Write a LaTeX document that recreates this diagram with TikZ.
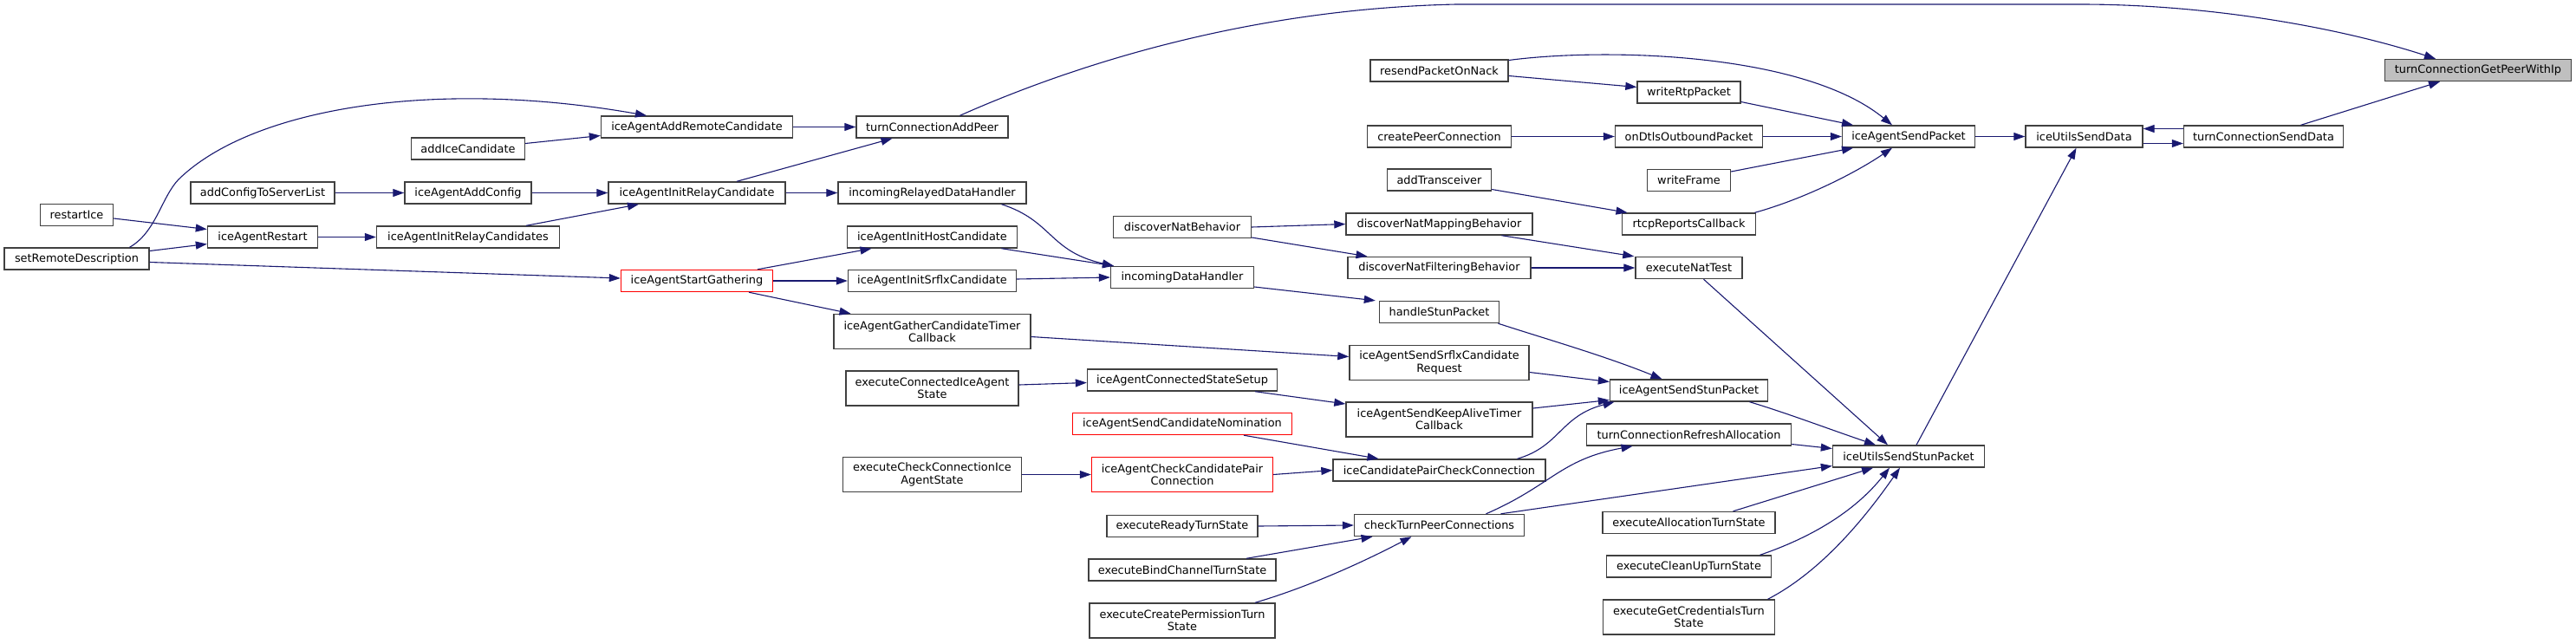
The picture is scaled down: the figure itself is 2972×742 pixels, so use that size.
\documentclass[tikz,border=0pt]{standalone}
\usepackage{fontspec}
\usepackage{xcolor}
\usepackage{tikz}
\usetikzlibrary{arrows.meta}
\newfontfamily\dox{DejaVu Sans}
\newcommand\fnfont{\dox\fontsize{12.9pt}{14.3pt}\selectfont}
\definecolor{callBlue}{HTML}{191970}
\definecolor{boxEdge}{HTML}{404040}
\definecolor{targetFill}{HTML}{BFBFBF}
\definecolor{truncRed}{HTML}{FF0000}

\begin{document}
\begin{tikzpicture}[x=1pt, y=-1pt,
    fn/.style={draw=boxEdge, line width=1.4pt, fill=white, minimum height=25pt, inner sep=2pt, font=\fnfont},
    fnred/.style={fn, draw=truncRed},
    fntarget/.style={fn, fill=targetFill},
    two/.style={align=center, minimum height=40pt},
    call/.style={draw=callBlue, line width=1.1pt, -{Triangle[length=13pt, width=9pt]}}]
    \useasboundingbox[fill=white] (0,0) rectangle (2972,742);

    \node[fn, minimum width=84pt] (restartIce) at (88.5,248) {restartIce};
    \node[fn, minimum width=167pt] (setRemote) at (88.5,298.5) {setRemoteDescription};
    \node[fn, minimum width=166pt] (addCfgList) at (303,222.5) {addConfigToServerList};
    \node[fn, minimum width=127pt] (restart) at (303,273.5) {iceAgentRestart};
    \node[fn, minimum width=131pt] (addIce) at (540,171.5) {addIceCandidate};
    \node[fn, minimum width=146pt] (addCfg) at (540,222.5) {iceAgentAddConfig};
    \node[fn, minimum width=211pt] (initRelays) at (540,273.5) {iceAgentInitRelayCandidates};
    \node[fn, minimum width=221pt] (addRemote) at (804,146.5) {iceAgentAddRemoteCandidate};
    \node[fn, minimum width=204pt] (initRelay) at (804,222.5) {iceAgentInitRelayCandidate};
    \node[fnred, minimum width=175pt] (startGather) at (804,324) {iceAgentStartGathering};

    \node[fn, minimum width=175pt] (addPeer) at (1075.5,146.5) {turnConnectionAddPeer};
    \node[fn, minimum width=217pt] (relayedHandler) at (1075.5,222.5) {incomingRelayedDataHandler};
    \node[fn, minimum width=196pt] (initHost) at (1075.5,273.5) {iceAgentInitHostCandidate};
    \node[fn, minimum width=194pt] (initSrflx) at (1075.5,324) {iceAgentInitSrflxCandidate};
    \node[fn, two, minimum width=227pt] (gatherTimer) at (1075.5,382.5) {iceAgentGatherCandidateTimer\\Callback};
    \node[fn, two, minimum width=199pt] (connIce) at (1075.5,448) {executeConnectedIceAgent\\State};
    \node[fn, two, minimum width=206pt] (checkConnIce) at (1075.5,547.5) {executeCheckConnectionIce\\AgentState};

    \node[fn, minimum width=159pt] (natBehavior) at (1364,262) {discoverNatBehavior};
    \node[fn, minimum width=165pt] (dataHandler) at (1364,320) {incomingDataHandler};
    \node[fn, minimum width=219pt] (connSetup) at (1364,438.5) {iceAgentConnectedStateSetup};
    \node[fnred, minimum width=253pt] (nominate) at (1364,489) {iceAgentSendCandidateNomination};
    \node[fnred, two, minimum width=209pt] (checkPair) at (1364,547.5) {iceAgentCheckCandidatePair\\Connection};
    \node[fn, minimum width=174pt] (readyTurn) at (1364,607) {executeReadyTurnState};
    \node[fn, minimum width=216pt] (bindChannel) at (1364,657.5) {executeBindChannelTurnState};
    \node[fn, two, minimum width=214pt] (createPerm) at (1364,716) {executeCreatePermissionTurn\\State};

    \node[fn, minimum width=159pt] (resendNack) at (1660.5,81.5) {resendPacketOnNack};
    \node[fn, minimum width=166pt] (createPC) at (1660.5,157.5) {createPeerConnection};
    \node[fn, minimum width=120pt] (addTrans) at (1660.5,207.5) {addTransceiver};
    \node[fn, minimum width=215pt] (natMapping) at (1660.5,258.5) {discoverNatMappingBehavior};
    \node[fn, minimum width=211pt] (natFiltering) at (1660.5,309) {discoverNatFilteringBehavior};
    \node[fn, minimum width=138pt] (handleStun) at (1660.5,360) {handleStunPacket};
    \node[fn, two, minimum width=207pt] (srflxReq) at (1660.5,418.5) {iceAgentSendSrflxCandidate\\Request};
    \node[fn, two, minimum width=215pt] (keepAlive) at (1660.5,484) {iceAgentSendKeepAliveTimer\\Callback};
    \node[fn, minimum width=245pt] (pairCheck) at (1660.5,542.5) {iceCandidatePairCheckConnection};
    \node[fn, minimum width=196pt] (checkTurn) at (1660.5,606) {checkTurnPeerConnections};

    \node[fn, minimum width=119pt] (writeRtp) at (1948.5,106.5) {writeRtpPacket};
    \node[fn, minimum width=170pt] (onDtls) at (1948.5,157.5) {onDtlsOutboundPacket};
    \node[fn, minimum width=96pt] (writeFrame) at (1948.5,208) {writeFrame};
    \node[fn, minimum width=154pt] (rtcp) at (1948.5,258.5) {rtcpReportsCallback};
    \node[fn, minimum width=123pt] (natTest) at (1948.5,309) {executeNatTest};
    \node[fn, minimum width=182pt] (agentStun) at (1948.5,450.5) {iceAgentSendStunPacket};
    \node[fn, minimum width=236pt] (refreshAlloc) at (1948.5,501.5) {turnConnectionRefreshAllocation};
    \node[fn, minimum width=199pt] (allocTurn) at (1948.5,603) {executeAllocationTurnState};
    \node[fn, minimum width=190pt] (cleanUp) at (1948.5,653.5) {executeCleanUpTurnState};
    \node[fn, two, minimum width=198pt] (getCred) at (1948.5,712) {executeGetCredentialsTurn\\State};

    \node[fn, minimum width=153pt] (sendPacket) at (2202,157.5) {iceAgentSendPacket};
    \node[fn, minimum width=175pt] (utilsStun) at (2202,526.5) {iceUtilsSendStunPacket};
    \node[fn, minimum width=135pt] (utilsData) at (2404.5,157.5) {iceUtilsSendData};
    \node[fn, minimum width=184pt] (sendData) at (2611.5,157.5) {turnConnectionSendData};
    \node[fntarget, minimum width=215pt] (getPeer) at (2859,81) {turnConnectionGetPeerWithIp};

    \draw[call] ([xshift=61pt]setRemote.north) .. controls (180,268) and (186,228) .. (206,207)
        .. controls (290,125) and (500,90) .. ([xshift=-58pt]addRemote.north);
    \draw[call] ([yshift=6pt]addIce.east) -- ([yshift=-10pt]addRemote.west);
    \draw[call] (addRemote.east) -- (addPeer.west);
    \draw[call] (addCfgList.east) -- (addCfg.west);
    \draw[call] (addCfg.east) -- (initRelay.west);
    \draw[call] ([xshift=67pt]initRelays.north) -- ([xshift=-67pt]initRelay.south);
    \draw[call] ([yshift=-4pt]restartIce.east) -- ([yshift=9pt]restart.west);
    \draw[call] ([yshift=9pt]setRemote.east) -- ([yshift=-8pt]restart.west);
    \draw[call] (restart.east) -- (initRelays.west);
    \draw[call] ([yshift=-4pt]setRemote.east) -- ([yshift=3pt]startGather.west);
    \draw[call] ([xshift=46pt]initRelay.north) -- ([xshift=-46pt]addPeer.south);
    \draw[call] (initRelay.east) -- (relayedHandler.west);
    \draw[call] ([xshift=32pt]addPeer.north) .. controls (1250,70) and (1450,10) .. (1680,5)
        -- (2400,5) .. controls (2550,5) and (2700,32) .. ([xshift=-49pt]getPeer.north);
    \draw[call] ([xshift=70pt]startGather.north) -- ([xshift=-70pt]initHost.south);
    \draw[call] (startGather.east) -- (initSrflx.west);
    \draw[call] ([xshift=60pt]startGather.south) -- ([xshift=-94pt]gatherTimer.north);
    \draw[call] ([xshift=80pt]relayedHandler.south) .. controls (1215,255) and (1210,290) .. ([xshift=-79pt]dataHandler.north);
    \draw[call] ([xshift=80pt]initHost.south) -- ([xshift=-79pt]dataHandler.north);
    \draw[call] ([yshift=2pt]initSrflx.east) -- (dataHandler.west);
    \draw[call] (natBehavior.east) -- (natMapping.west);
    \draw[call] ([yshift=-12pt]natBehavior.east) -- ([xshift=-83pt]natFiltering.north);
    \draw[call] ([yshift=-11pt]dataHandler.east) -- ([xshift=-4pt]handleStun.north west);

    \draw[call] ([yshift=-6pt]resendNack.east) -- ([yshift=6pt]writeRtp.west);
    \draw[call] ([yshift=12pt]resendNack.east) .. controls (1850,55) and (2080,60) .. ([xshift=-19pt]sendPacket.north);
    \draw[call] ([yshift=-11pt]writeRtp.east) -- ([xshift=-64pt]sendPacket.north);
    \draw[call] (createPC.east) -- (onDtls.west);
    \draw[call] (onDtls.east) -- (sendPacket.west);
    \draw[call] ([yshift=10pt]writeFrame.east) -- ([xshift=-64pt]sendPacket.south);
    \draw[call] ([xshift=76pt]rtcp.north) .. controls (2080,230) and (2140,200) .. ([xshift=-19pt]sendPacket.south);
    \draw[call] ([yshift=-11pt]addTrans.east) -- ([xshift=-71pt]rtcp.north);
    \draw[call] ([xshift=72pt]natMapping.south) -- ([xshift=-1pt]natTest.north west);
    \draw[call] (natFiltering.east) -- (natTest.west);
    \draw[call] ([xshift=17pt]natTest.south) -- ([xshift=-24pt]utilsStun.north);
    \draw[call] (sendPacket.east) -- (utilsData.west);
    \draw[call] ([yshift=-8pt]utilsData.east) -- ([yshift=-8pt]sendData.west);
    \draw[call] ([yshift=9pt]sendData.west) -- ([yshift=9pt]utilsData.east);
    \draw[call] ([xshift=43pt]sendData.north) -- ([xshift=-44pt]getPeer.south);
    \draw[call] ([xshift=9pt]utilsStun.north) -- ([xshift=-9pt]utilsData.south);

    \draw[call] ([xshift=68pt]handleStun.south) .. controls (1780,390) and (1850,410) .. ([xshift=-31pt]agentStun.north);
    \draw[call] ([yshift=-11pt]srflxReq.east) -- ([yshift=10pt]agentStun.west);
    \draw[call] ([yshift=13pt]keepAlive.east) -- ([yshift=-11pt]agentStun.west);
    \draw[call] ([xshift=90pt]pairCheck.north) .. controls (1800,515) and (1800,480) .. ([xshift=-86pt]agentStun.south);
    \draw[call] ([xshift=70pt]agentStun.south) .. controls (2060,476) and (2110,495) .. ([xshift=-38pt]utilsStun.north);
    \draw[call] ([yshift=-11pt]refreshAlloc.east) -- ([yshift=9pt]utilsStun.west);
    \draw[call] ([xshift=54pt]checkTurn.north) .. controls (1790,560) and (1800,530) .. ([xshift=-65pt]refreshAlloc.south);
    \draw[call] ([xshift=71pt]checkTurn.north) -- ([yshift=-11pt]utilsStun.west);
    \draw[call] ([xshift=51pt]allocTurn.north) -- ([xshift=-41pt]utilsStun.south);
    \draw[call] ([xshift=82pt]cleanUp.north) .. controls (2090,620) and (2140,590) .. ([xshift=-22pt]utilsStun.south);
    \draw[call] ([xshift=91pt]getCred.north) .. controls (2100,660) and (2150,600) .. ([xshift=-10pt]utilsStun.south);

    \draw[call] ([yshift=-6pt]gatherTimer.east) -- ([yshift=7pt]srflxReq.west);
    \draw[call] ([yshift=4pt]connIce.east) -- ([yshift=-3pt]connSetup.west);
    \draw[call] ([xshift=84pt]connSetup.south) -- ([yshift=18pt]keepAlive.west);
    \draw[call] ([xshift=71pt]nominate.south) -- ([xshift=-70pt]pairCheck.north);
    \draw[call] (checkConnIce.east) -- (checkPair.west);
    \draw[call] (checkPair.east) -- (pairCheck.west);
    \draw[call] (readyTurn.east) -- (checkTurn.west);
    \draw[call] ([xshift=74pt]bindChannel.north) -- ([xshift=-77pt]checkTurn.south);
    \draw[call] ([xshift=84pt]createPerm.north) .. controls (1500,680) and (1560,655) .. ([xshift=-32pt]checkTurn.south);
\end{tikzpicture}
\end{document}
